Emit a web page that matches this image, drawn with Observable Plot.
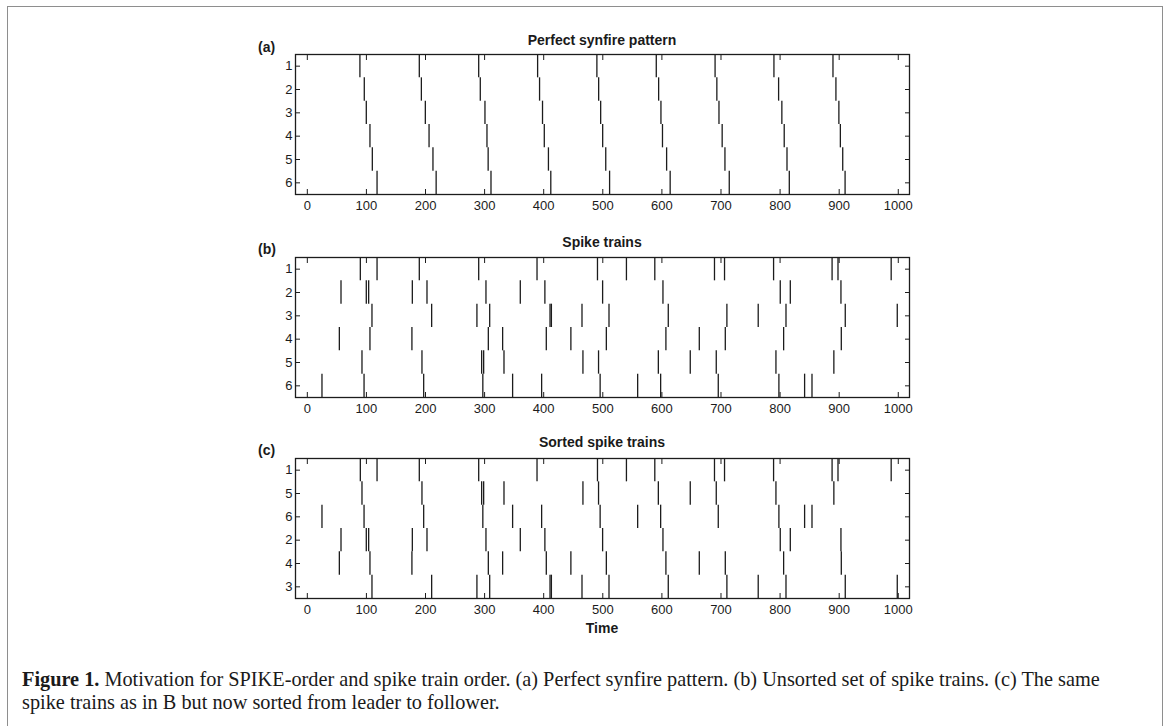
<!DOCTYPE html>
<html><head><meta charset="utf-8">
<script src="https://cdn.jsdelivr.net/npm/d3@7"></script>
<script src="https://cdn.jsdelivr.net/npm/@observablehq/plot@0.6"></script>
<style>
html,body{margin:0;padding:0;background:#fff;}
#page{position:relative;width:1170px;height:726px;overflow:hidden;font-family:"Liberation Sans",Arial,sans-serif;color:#1a1a1a;}
#border{position:absolute;left:7px;top:6px;width:1154px;height:760px;border:1.5px solid #8e8e8e;}
.panel{position:absolute;left:0;}
.title{position:absolute;left:295px;width:614px;text-align:center;font-weight:bold;font-size:14px;line-height:14px;white-space:nowrap;}
.tag{position:absolute;left:258px;font-weight:bold;font-size:14px;line-height:14px;}
#xlabel{position:absolute;left:295px;width:614px;text-align:center;font-weight:bold;font-size:14px;line-height:14px;}
.cap{position:absolute;left:22px;white-space:nowrap;font-family:"Liberation Serif","Times New Roman",serif;font-size:20.3px;line-height:23px;color:#1a1a1a;}
.cap b{font-weight:bold;margin-right:5px;}
</style>
</head>
<body>
<div id="page">
  <div id="border"></div>
  <div class="tag" style="top:40px">(a)</div>
  <div class="title" style="top:33px">Perfect synfire pattern</div>
  <div class="panel" id="pa" style="top:44px"></div>
  <div class="tag" style="top:242px">(b)</div>
  <div class="title" style="top:235px">Spike trains</div>
  <div class="panel" id="pb" style="top:247px"></div>
  <div class="tag" style="top:443px">(c)</div>
  <div class="title" style="top:435px">Sorted spike trains</div>
  <div class="panel" id="pc" style="top:448px"></div>
  <div id="xlabel" style="top:621px">Time</div>
  <div class="cap" style="top:668px"><b>Figure 1.</b><span>Motivation for SPIKE-order and spike train order. (a) Perfect synfire pattern. (b) Unsorted set of spike trains. (c) The same</span></div>
  <div class="cap" style="top:691px">spike trains as in B but now sorted from leader to follower.</div>
</div>
<script>
// ---- data ----
const trainIds = [1, 2, 3, 4, 5, 6];
const xTicks = [0, 100, 200, 300, 400, 500, 600, 700, 800, 900, 1000];
const xDomain = [-20, 1019];

// (a) perfect synfire pattern, spike times per train
const synfire1 = [89, 189.5, 290, 389.7, 490, 590.5, 690, 789.6, 889.5];
const synfire2 = [96.4, 193, 292.7, 393, 493, 594.5, 693, 797.5, 894.5];
const synfire3 = [99.8, 199.7, 300.6, 398, 496.4, 598.4, 696.6, 803, 899.5];
const synfire4 = [106, 206, 304, 401, 499.8, 601, 702, 807, 902];
const synfire5 = [110, 212.6, 306, 408, 505, 608, 706.7, 811.7, 906];
const synfire6 = [118, 218, 310.8, 412, 511.5, 614, 714, 815.6, 910];

// (b) unsorted spike trains
const train1 = [89.7, 118, 189.5, 290, 388.7, 491, 540, 588, 689, 706, 789, 888, 898, 988];
const train2 = [57, 99.8, 103.8, 177.7, 202.5, 302.3, 360.4, 402, 499.7, 601.8, 800.3, 817.3, 903];
const train3 = [109.4, 210.4, 287, 308.6, 410.7, 413, 464.8, 510.5, 610.8, 710, 763, 810, 910.3, 998.3];
const train4 = [54.2, 106, 177, 306.3, 330.5, 404.4, 446, 506, 606.8, 663.3, 707.3, 806, 903.6];
const train5 = [92.5, 194, 295, 298.4, 332.8, 466.4, 492.8, 594, 648, 692, 793, 891];
const train6 = [24.8, 96, 196.9, 297, 347.4, 396.5, 495.5, 559, 597.9, 695.4, 798, 841.5, 854];

// (c) order from leader to follower
const sortedOrder = [1, 5, 6, 2, 4, 3];

const synfireTrains = [synfire1, synfire2, synfire3, synfire4, synfire5, synfire6];
const spikeTrains = [train1, train2, train3, train4, train5, train6];
const sortedTrains = sortedOrder.map(id => spikeTrains[id - 1]);

const ink = "#1c1c1c";

function panel(trains, labels) {
  const spikes = trains.flatMap((times, i) => times.map(t => ({t, row: trainIds[i]})));
  return Plot.plot({
    width: 1170,
    height: 180,
    marginLeft: 295,
    marginRight: 261,
    marginTop: 10,
    marginBottom: 30,
    style: {fontFamily: "'Liberation Sans', Arial, sans-serif", fontSize: "13px", color: ink, background: "transparent"},
    x: {domain: xDomain, label: null},
    y: {domain: [6.5, 0.5], label: null},
    marks: [
      Plot.ruleX(spikes, {x: "t", y1: d => d.row - 0.5, y2: d => d.row + 0.5, stroke: ink, strokeWidth: 1.3}),
      Plot.frame({stroke: ink, strokeWidth: 1.3}),
      Plot.axisX(xTicks, {anchor: "bottom", tickSize: -5, tickPadding: 11, label: null, tickFormat: d => String(d), stroke: ink, fill: ink}),
      Plot.axisX(xTicks, {anchor: "top", tickSize: -5, fill: "none", label: null, stroke: ink}),
      Plot.axisY(trainIds, {anchor: "left", tickSize: -5, tickPadding: 8, label: null, tickFormat: d => String(labels[d - 1]), stroke: ink, fill: ink}),
      Plot.axisY(trainIds, {anchor: "right", tickSize: -5, fill: "none", label: null, stroke: ink})
    ]
  });
}

document.getElementById("pa").append(panel(synfireTrains, trainIds));
document.getElementById("pb").append(panel(spikeTrains, trainIds));
document.getElementById("pc").append(panel(sortedTrains, sortedOrder));
</script>
</body></html>
